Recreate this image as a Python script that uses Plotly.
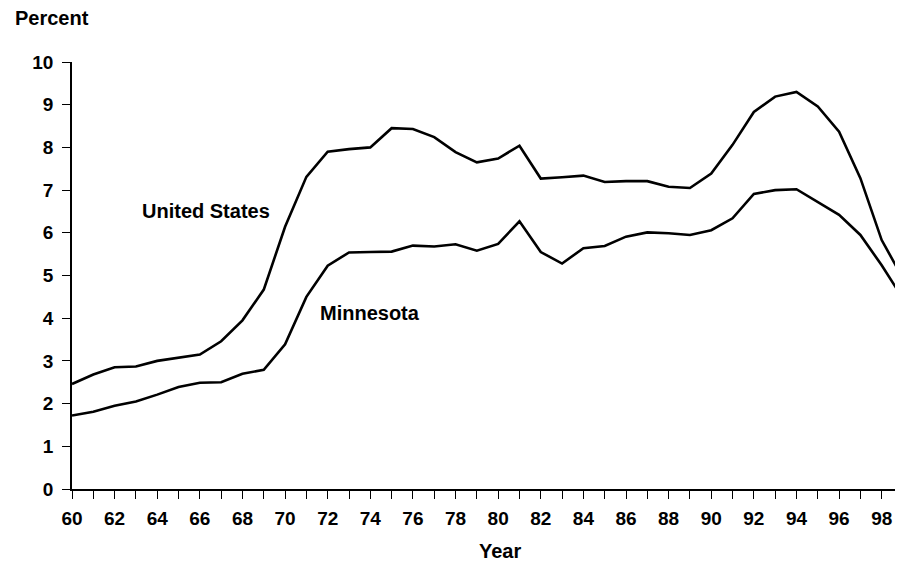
import plotly.graph_objects as go

years = list(range(60, 100))
us = [2.46, 2.68, 2.85, 2.87, 3.00, 3.07, 3.15, 3.46, 3.95, 4.67,
      6.14, 7.31, 7.90, 7.96, 8.00, 8.45, 8.43, 8.24, 7.89, 7.65,
      7.74, 8.04, 7.27, 7.30, 7.34, 7.19, 7.21, 7.21, 7.08, 7.05,
      7.39, 8.06, 8.83, 9.19, 9.30, 8.96, 8.37, 7.28, 5.83, 4.93]
mn = [1.72, 1.81, 1.95, 2.05, 2.21, 2.39, 2.49, 2.50, 2.70, 2.79,
      3.39, 4.50, 5.23, 5.54, 5.55, 5.56, 5.70, 5.68, 5.73, 5.58,
      5.74, 6.27, 5.55, 5.28, 5.64, 5.69, 5.91, 6.01, 5.99, 5.95,
      6.06, 6.34, 6.91, 7.00, 7.02, 6.73, 6.42, 5.95, 5.24, 4.46]
x_tickvals = list(range(60, 99))
x_ticktext = [str(v) if v % 2 == 0 else "" for v in x_tickvals]
y_tickvals = list(range(0, 11))

font = "Liberation Sans, Arial, sans-serif"

fig = go.Figure()
fig.add_trace(go.Scatter(x=years, y=us, mode="lines", name="United States",
                         line=dict(color="black", width=2.6)))
fig.add_trace(go.Scatter(x=years, y=mn, mode="lines", name="Minnesota",
                         line=dict(color="black", width=2.6)))

fig.add_annotation(x=66.27, y=6.49, yshift=1, text="<b>United States</b>", showarrow=False,
                   font=dict(family=font, size=20, color="black"))
fig.add_annotation(x=74.0, y=4.09, yshift=1, text="<b>Minnesota</b>", showarrow=False,
                   font=dict(family=font, size=20, color="black"))
fig.add_annotation(xref="paper", yref="paper", x=-59 / 831, y=1.0, yshift=44,
                   xanchor="left", yanchor="middle", text="<b>Percent</b>",
                   showarrow=False, font=dict(family=font, size=20, color="black"))
fig.add_annotation(xref="paper", yref="paper", x=(500 - 72) / 831, y=0, yshift=-62,
                   xanchor="center", yanchor="middle", text="<b>Year</b>",
                   showarrow=False, font=dict(family=font, size=20, color="black"))

fig.update_layout(
    width=895, height=555,
    margin=dict(l=64, r=0, t=54, b=74),
    paper_bgcolor="white", plot_bgcolor="white",
    showlegend=False,
    font=dict(family=font, size=19, color="black"),
)
fig.update_xaxes(range=[60, 99], tickvals=x_tickvals, ticktext=x_ticktext,
                 ticks="outside", ticklen=8, tickwidth=1.3, tickcolor="black",
                 ticklabelstandoff=3,
                 showline=True, linecolor="black", linewidth=1.6,
                 showgrid=False, zeroline=False,
                 tickfont=dict(family=font, size=19, color="black", weight="bold"))
fig.update_yaxes(range=[0, 10], tickvals=y_tickvals,
                 ticks="outside", ticklen=8, tickwidth=1.3, tickcolor="black",
                 ticklabelstandoff=5,
                 showline=True, linecolor="black", linewidth=1.6,
                 showgrid=False, zeroline=False,
                 tickfont=dict(family=font, size=19, color="black", weight="bold"))

fig.write_html("out.html")
